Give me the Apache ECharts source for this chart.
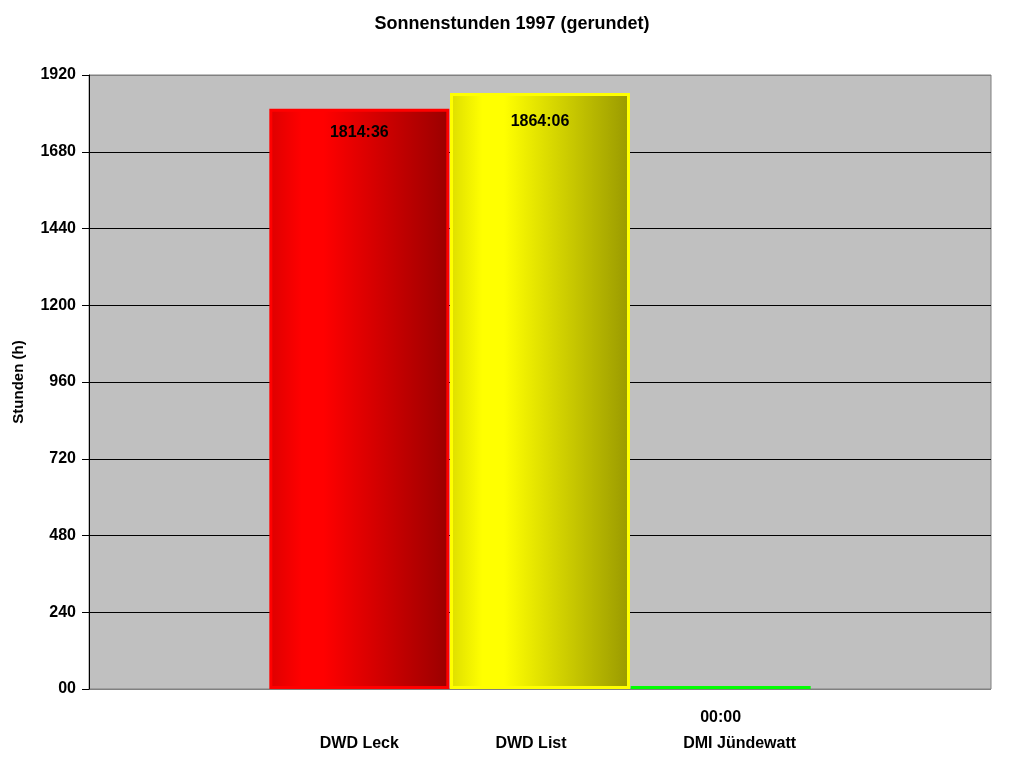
<!DOCTYPE html>
<html>
<head>
<meta charset="utf-8">
<title>Sonnenstunden 1997</title>
<script src="https://cdn.jsdelivr.net/npm/echarts@6/dist/echarts.min.js"></script>
<style>
	html, body { margin: 0; padding: 0; background: #fff; }
	#chart { width: 1024px; height: 768px; }
</style>
</head>
<body>
<div id="chart"></div>
<script>
// Stationen und Sonnenstunden (Dezimalstunden)
var stations = ['DWD Leck', 'DWD List', 'DMI Jündewatt'];
var hours = [1814.6, 1864.1, 0];
var yTicks = [0, 240, 480, 720, 960, 1200, 1440, 1680, 1920];

var FONT = 'Liberation Sans, Arial, sans-serif';

// h:mm wie in Excel [h]:mm
function fmtHours(v) {
	var h = Math.floor(v);
	var m = Math.round((v - h) * 60);
	var hs = h < 10 ? '0' + h : '' + h;
	var ms = m < 10 ? '0' + m : '' + m;
	return hs + ':' + ms;
}

// nur eine Station pro Serie, Rest leer
function onlyIndex(idx) {
	return hours.map(function (v, i) { return i === idx ? v : '-'; });
}

function hGrad(edge, bright, dark) {
	return new echarts.graphic.LinearGradient(0, 0, 1, 0, [
		{ offset: 0, color: edge },
		{ offset: 0.18, color: bright },
		{ offset: 0.3, color: bright },
		{ offset: 1, color: dark }
	]);
}

// Beschriftungen etwas versetzt wie im Original
var labelPad = [[0, 0, 0, 0], [0, 18, 0, 0], [0, 0, 6, 38]];

var chart = echarts.init(document.getElementById('chart'));

var valueLabel = {
	show: true,
	position: 'insideTop',
	color: '#000',
	fontFamily: FONT,
	fontWeight: 'bold',
	fontSize: 16,
	formatter: function (p) { return fmtHours(p.value); }
};

chart.setOption({
	animation: false,
	title: {
		text: 'Sonnenstunden 1997 (gerundet)',
		left: 'center',
		top: 10,
		textStyle: { fontFamily: FONT, fontWeight: 'bold', fontSize: 18, color: '#000' }
	},
	grid: [
		{
			left: 89, right: 33, top: 75, bottom: 79,
			outerBoundsMode: 'none', containLabel: false,
			show: true, backgroundColor: '#c0c0c0',
			borderColor: '#808080', borderWidth: 1
		},
		{ left: 269, width: 542, top: 75, bottom: 79, outerBoundsMode: 'none', containLabel: false }
	],
	xAxis: [
		{
			gridIndex: 0, type: 'category', data: [''],
			axisLine: { show: false }, axisTick: { show: false }, axisLabel: { show: false }
		},
		{
			gridIndex: 1, type: 'category',
			data: stations.map(function (s, i) {
				return { value: s, textStyle: { padding: labelPad[i] } };
			}),
			axisLine: { show: false }, axisTick: { show: false },
			axisLabel: {
				margin: 47, color: '#000',
				fontFamily: FONT, fontWeight: 'bold', fontSize: 16
			}
		}
	],
	yAxis: [
		{
			gridIndex: 0, type: 'value',
			min: yTicks[0], max: yTicks[yTicks.length - 1], interval: yTicks[1] - yTicks[0],
			name: 'Stunden (h)', nameLocation: 'middle', nameGap: 63,
			nameTextStyle: { fontFamily: FONT, fontWeight: 'bold', fontSize: 15, color: '#000' },
			axisLine: { show: true, lineStyle: { color: '#000', width: 1 } },
			axisTick: { show: true, inside: false, length: 7, lineStyle: { color: '#000' } },
			axisLabel: {
				margin: 13, color: '#000',
				fontFamily: FONT, fontWeight: 'bold', fontSize: 16,
				formatter: function (v) { return v === 0 ? '00' : '' + v; }
			},
			splitLine: {
				show: true,
				lineStyle: {
					width: 1,
					color: ['#808080', '#000', '#000', '#000', '#000', '#000', '#000', '#000', '#808080']
				}
			}
		},
		{
			gridIndex: 1, type: 'value',
			min: yTicks[0], max: yTicks[yTicks.length - 1],
			show: false, splitLine: { show: false }
		}
	],
	series: [
		{
			type: 'bar', xAxisIndex: 1, yAxisIndex: 1,
			data: onlyIndex(0), barWidth: 180, barGap: '-100%',
			itemStyle: {
				color: hGrad('#dd0000', '#ff0000', '#990000'),
				borderColor: '#ff0000', borderWidth: 3
			},
			label: Object.assign({}, valueLabel, { distance: 16 })
		},
		{
			type: 'bar', xAxisIndex: 1, yAxisIndex: 1,
			data: onlyIndex(1), barWidth: 180, barGap: '-100%',
			itemStyle: {
				color: hGrad('#dddd00', '#ffff00', '#999900'),
				borderColor: '#ffff00', borderWidth: 3
			},
			label: Object.assign({}, valueLabel, { distance: 21 })
		},
		{
			type: 'bar', xAxisIndex: 1, yAxisIndex: 1,
			data: onlyIndex(2), barWidth: 180, barGap: '-100%',
			barMinHeight: 3,
			itemStyle: { color: '#00ff00' },
			label: Object.assign({}, valueLabel, { position: 'bottom', distance: 21 })
		}
	]
});
</script>
</body>
</html>
